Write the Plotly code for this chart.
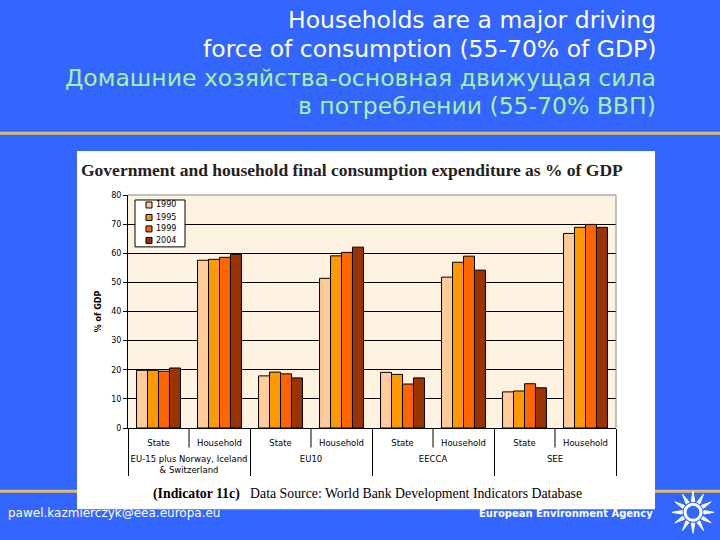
import numpy as np
import plotly.graph_objects as go

# ---- data ----
regions = ["EU-15 plus Norway, Iceland<br>& Switzerland", "EU10", "EECCA", "SEE"]
sectors = ["State", "Household"]
years = ["1990", "1995", "1999", "2004"]
v1990 = [19.8, 57.6, 17.9, 51.4, 19.1, 51.8, 12.4, 66.8]
v1995 = [19.8, 57.9, 19.2, 59.1, 18.4, 56.9, 12.7, 68.9]
v1999 = [19.5, 58.6, 18.6, 60.3, 15.1, 59.0, 15.2, 69.9]
v2004 = [20.6, 59.6, 17.2, 62.1, 17.2, 54.2, 13.8, 68.9]
series = [v1990, v1995, v1999, v2004]
colors = ["#FFCC99", "#FF9900", "#FF6600", "#993300"]

# leading line break pushes the region row below the sector row
outer = ["<br>" + r for r in regions for _ in sectors]
inner = [s for _ in regions for s in sectors]

W, H = 720, 540
L, R, T, B = 128, 616, 195, 428.5


def px(x):
    return (x - L) / (R - L)


def py(y):
    return (B - y) / (B - T)


fig = go.Figure()
for yr, vals, c in zip(years, series, colors):
    fig.add_trace(go.Bar(
        x=[outer, inner], y=vals, name=yr,
        marker=dict(color=c, line=dict(color="black", width=1)),
    ))

shapes = []
# gold separator lines
shapes.append(dict(type="line", xref="paper", yref="paper", x0=px(0), x1=px(W),
                   y0=py(133), y1=py(133), line=dict(color="#D8BE78", width=3), layer="below"))
shapes.append(dict(type="line", xref="paper", yref="paper", x0=px(0), x1=px(W),
                   y0=py(492), y1=py(492), line=dict(color="#D8BE78", width=3), layer="below"))
# white chart panel
shapes.append(dict(type="rect", xref="paper", yref="paper", x0=px(77), x1=px(655),
                   y0=py(151), y1=py(510), fillcolor="white", line=dict(width=0), layer="below"))
# cream plot area
shapes.append(dict(type="rect", xref="paper", yref="paper", x0=0, x1=1, y0=0, y1=1,
                   fillcolor="#FCF2DF", line=dict(width=0), layer="below"))
# gray border top/right
shapes.append(dict(type="line", xref="paper", yref="paper", x0=0, x1=1, y0=1, y1=1,
                   line=dict(color="#888888", width=1)))
shapes.append(dict(type="line", xref="paper", yref="paper", x0=1, x1=1, y0=0, y1=1,
                   line=dict(color="#888888", width=1)))
# short dividers between sectors inside each region
ncat = len(inner)
for i in range(len(regions)):
    xf = (2 * i + 1) / ncat
    shapes.append(dict(type="line", xref="paper", yref="paper", x0=xf, x1=xf,
                       y0=py(429), y1=py(448), line=dict(color="black", width=1)))

# legend box (drawn manually, compact like the original)
shapes.append(dict(type="rect", xref="paper", yref="paper", x0=px(135), x1=px(185),
                   y0=py(200), y1=py(247), fillcolor="white", line=dict(color="black", width=1)))
leg_y = [205, 217.5, 229, 240.5]
ann = []
for yr, c, yy in zip(years, colors, leg_y):
    shapes.append(dict(type="rect", xref="paper", yref="paper", x0=px(146), x1=px(152),
                       y0=py(yy - 3), y1=py(yy + 3), fillcolor=c, line=dict(color="black", width=1)))
    ann.append(dict(text=yr, xref="paper", yref="paper", x=px(154), y=py(yy),
                    xanchor="left", yanchor="middle", showarrow=False,
                    font=dict(family="DejaVu Sans", size=8, color="black")))

# sun logo (decoration)
cx, cy = 693, 513
ang = np.linspace(0, 2 * np.pi, 13)[:-1]
path = ""
for a in ang:
    a1, a2 = a - 0.16, a + 0.16
    pts = [(cx + 11 * np.cos(a1), cy + 11 * np.sin(a1)),
           (cx + 21 * np.cos(a), cy + 21 * np.sin(a)),
           (cx + 11 * np.cos(a2), cy + 11 * np.sin(a2))]
    path += "M %f %f L %f %f L %f %f Z " % tuple(
        v for p in pts for v in (px(p[0]), py(p[1])))
shapes.append(dict(type="path", xref="paper", yref="paper", path=path,
                   fillcolor="white", line=dict(color="white", width=1)))
shapes.append(dict(type="circle", xref="paper", yref="paper",
                   x0=px(cx - 8), x1=px(cx + 8), y0=py(cy - 8), y1=py(cy + 8),
                   line=dict(color="white", width=3)))

title_lines = [("Households are a major driving", "white", 17.5),
               ("force of consumption (55-70% of GDP)", "white", 46.5),
               ("Домашние хозяйства-основная движущая сила", "#A8F0A0", 75.5),
               ("в потреблении (55-70% ВВП)", "#A8F0A0", 104)]
for txt, col, yc in title_lines:
    ann.append(dict(text=txt, xref="paper", yref="paper", x=px(658), y=py(yc + 2),
                    xanchor="right", yanchor="middle", showarrow=False,
                    font=dict(family="DejaVu Sans", size=23.5, color=col)))
ann.append(dict(text="<b>Government and household final consumption expenditure as % of GDP</b>",
                xref="paper", yref="paper", x=px(79), y=py(170), xanchor="left", yanchor="middle",
                showarrow=False, font=dict(family="Liberation Serif", size=17.5, color="#222222")))
ann.append(dict(text="<b>(Indicator 11c)</b>   Data Source: World Bank Development Indicators Database",
                xref="paper", yref="paper", x=px(367), y=py(495), xanchor="center", yanchor="middle",
                showarrow=False, font=dict(family="Liberation Serif", size=13.8, color="black")))
ann.append(dict(text="pawel.kazmierczyk@eea.europa.eu", xref="paper", yref="paper",
                x=px(6), y=py(514), xanchor="left", yanchor="middle", showarrow=False,
                font=dict(family="DejaVu Sans", size=12, color="white")))
ann.append(dict(text="<b>European Environment Agency</b>", xref="paper", yref="paper",
                x=px(655), y=py(514), xanchor="right", yanchor="middle", showarrow=False,
                font=dict(family="DejaVu Sans", size=10, color="white")))

fig.update_layout(
    width=W, height=H,
    margin=dict(l=L, r=W - R, t=T, b=H - B, pad=0),
    paper_bgcolor="#3366FF",
    plot_bgcolor="rgba(0,0,0,0)",
    barmode="group", bargap=0.28, bargroupgap=0,
    font=dict(family="DejaVu Sans", size=8, color="black"),
    showlegend=False,
    shapes=shapes, annotations=ann,
)
fig.update_xaxes(type="multicategory", showline=True, linecolor="black", linewidth=1,
                 showdividers=True, dividercolor="black", dividerwidth=1,
                 tickfont=dict(size=8.5, color="black"), ticks="", ticklabelstandoff=7)
fig.update_yaxes(range=[0, 80], dtick=10, showgrid=True, gridcolor="black", gridwidth=1,
                 showline=True, linecolor="black", linewidth=1, ticks="outside", ticklen=4,
                 tickcolor="black", tickfont=dict(size=8, color="black"),
                 zeroline=False,
                 title=dict(text="<b>% of GDP</b>", font=dict(size=8, color="black"), standoff=8))

fig.write_html("out.html", post_script="document.body.style.margin='0';",
               config={"displayModeBar": False})
